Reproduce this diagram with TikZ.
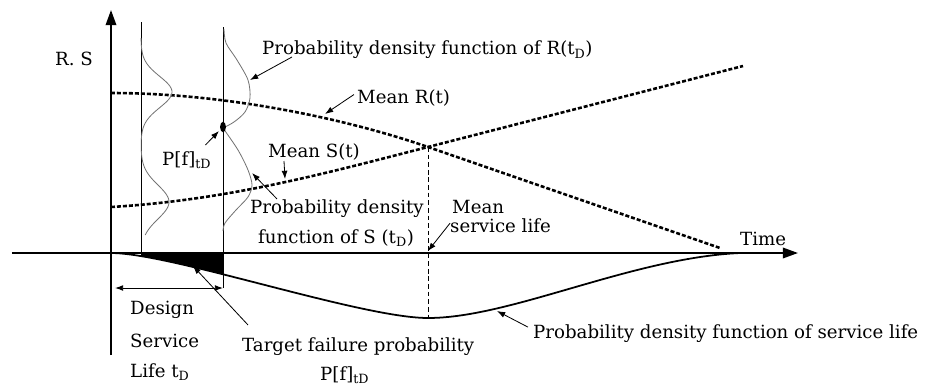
\documentclass[tikz,border=0pt]{standalone}
\usepackage{fontspec}
\setmainfont{DejaVu Serif}
\usepackage{tikz}
\usetikzlibrary{arrows.meta, calc}

\begin{document}
\begin{tikzpicture}[x=0.03cm, y=0.03cm, font=\fontsize{15.5}{18}\selectfont,
  axis/.style={line width=1.6pt, -{Triangle[length=13pt, width=9pt]}},
  guide/.style={line width=0.6pt},
  meanline/.style={line width=2.2pt, dash pattern=on 3.4pt off 1.7pt},
  pdfcurve/.style={black!55, line width=0.7pt},
  lblarrow/.style={-{Latex[length=7pt, width=5pt]}, line width=0.7pt},
  lbl/.style={inner sep=0pt, anchor=base west}]

\useasboundingbox (-111,-134) rectangle (825,253);

%-- axes
\draw[axis] (0,-102) -- (0,243);
\draw[axis] (-99,0) -- (687,0);

%-- t = 0 and t = t_D
\draw[guide] (30,0) -- (30,231);
\draw[guide] (112,-35) -- (112,226);
\coordinate (tD0) at (4,-35);
\coordinate (tD1) at (112,-35);
\draw[{Latex[length=7pt, width=5pt]}-{Latex[length=7pt, width=5pt]}, line width=0.8pt]
  (tD0) -- (tD1);

%-- mean resistance and mean load
\coordinate (cross) at (317,106);
\draw[meanline] (0,160) .. controls (110,160) and (230,136) .. (cross) -- (609,5);
\draw[meanline] (0,46) .. controls (119,53) and (219,81) .. (cross) -- (632,187);
\draw[line width=0.8pt, dash pattern=on 4pt off 2.5pt] (cross) -- (317,-65);

%-- pdf of service life, target failure area
\begin{scope}
  \clip (30,2) rectangle (112,-40);
  \fill (0,0) .. controls (60,0) and (250,-65) .. (317,-65) -- (317,0) -- cycle;
\end{scope}
\draw[line width=1.5pt]
  (0,0) .. controls (60,0) and (250,-65) .. (317,-65)
  .. controls (400,-65) and (520,-5) .. (629,0);

%-- pdfs of R and S at t = 0
\draw[pdfcurve] plot[domain=18:215, samples=120, smooth]
  ({30+31*exp(-((\x-161)/22)*((\x-161)/22))+28*exp(-((\x-51)/24)*((\x-51)/24))}, \x);

%-- pdfs of R and S at t = t_D
\draw[pdfcurve] plot[smooth] coordinates
  {(113,224) (115,210) (126,193) (137,173) (139,155) (134,141) (123,131) (112,125)};
\draw[pdfcurve] plot[smooth] coordinates
  {(112,125) (127,103) (137,83) (141,68) (137,56) (125,43) (114,30) (112,22)};
\fill (112,126) ellipse (2.5pt and 4.5pt);

%-- labels
\node[lbl] (lblRS) at (-56,188) {R. S};
\node[lbl] (lblpdfR) at (151,198) {Probability density function of R(t$_\mathrm{D}$)};
\node[lbl] (lblMR) at (246,150) {Mean R(t)};
\node[lbl] (lblMS) at (157,96) {Mean S(t)};
\node[lbl] (lblPf) at (51,88) {P[f]$_{\mathrm{tD}}$};
\node[lbl] (lblpdfS) at (139,40) {Probability density};
\node[lbl] (lblpdfS2) at (147,10) {function of S (t$_\mathrm{D}$)};
\node[lbl] (lblMean) at (341,40) {Mean};
\node[lbl] (lblSvc) at (339,21) {service life};
\node[lbl] (lblTime) at (629,8) {Time};
\node[lbl] (lblDes) at (19,-61) {Design};
\node[lbl] (lblSer) at (19,-94) {Service};
\node[lbl] (lblLife) at (19,-124) {Life t$_\mathrm{D}$};
\node[lbl] (lblTF) at (131,-98) {Target failure probability};
\node[lbl] (lblTF2) at (209,-127) {P[f]$_{\mathrm{tD}}$};
\node[lbl] (lblpdfL) at (422,-85) {Probability density function of service life};

%-- arrow ends
\coordinate (onpdfR) at (139,173);
\coordinate (onMR)   at (214,139);
\coordinate (onMS)   at (174,74);
\coordinate (onPf)   at (108,122);
\coordinate (onpdfS) at (141,80);
\coordinate (onMSL)  at (317,2);
\coordinate (onTF)   at (82,-13);
\coordinate (onSL)   at (386,-58);

%-- pointers
\draw[lblarrow] ($(lblpdfR.base west)+(30,-2)$) -- (onpdfR);
\draw[lblarrow] ($(lblMR.west)+(-3,3)$) -- (onMR);
\draw[lblarrow] ($(lblMS.base west)+(16,-4)$) -- (onMS);
\draw[lblarrow] ($(lblPf.north east)+(-6,6)$) -- (onPf);
\draw[lblarrow] ($(lblpdfS.north west)+(27,0)$) -- (onpdfS);
\draw[lblarrow] ($(lblSvc.west)+(0,2)$) -- (onMSL);
\draw[lblarrow] ($(lblTF.north west)+(6,12)$) -- (onTF);
\draw[lblarrow] ($(lblpdfL.west)+(-5,6)$) -- (onSL);

\end{tikzpicture}
\end{document}
